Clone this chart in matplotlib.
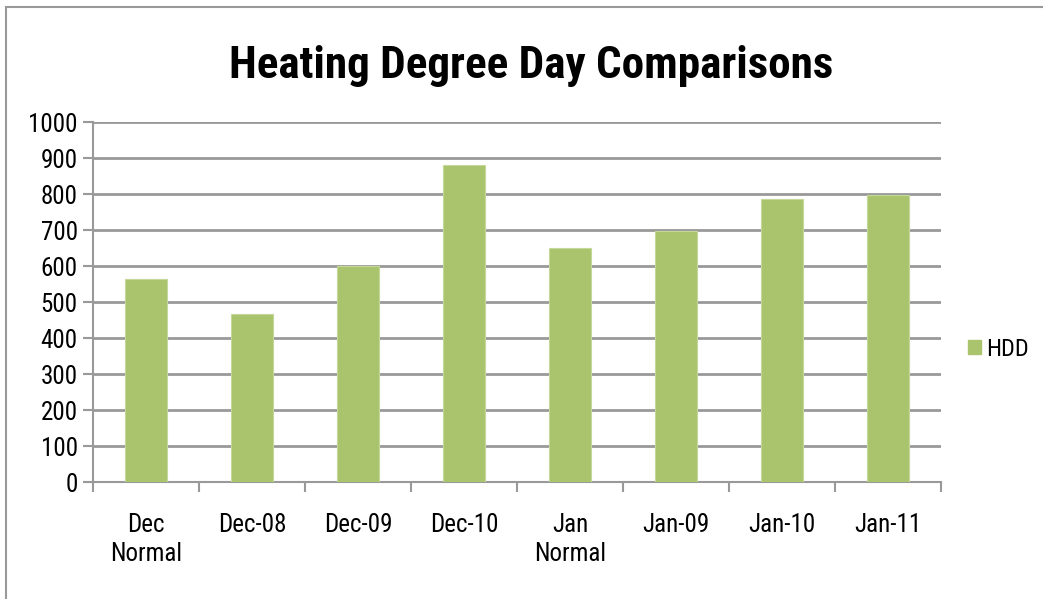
import matplotlib
matplotlib.use("Agg")
import matplotlib.pyplot as plt
from matplotlib import font_manager
from matplotlib.patches import Rectangle, Patch

categories = ["Dec\nNormal", "Dec-08", "Dec-09", "Dec-10", "Jan\nNormal", "Jan-09", "Jan-10", "Jan-11"]
hdd = [563, 468, 600, 880, 650, 696, 785, 797]
yticks = [0, 100, 200, 300, 400, 500, 600, 700, 800, 900, 1000]

# narrow sans fonts, closest to the Arial Narrow look
fonts = font_manager.fontManager.ttflist
have = {f.name for f in fonts}
bold_have = {f.name for f in fonts if f.weight in (700, "bold")}
narrow = [n for n in ["Roboto Condensed", "PT Sans Narrow", "Archivo Narrow", "Liberation Sans Narrow"] if n in have]
narrow_bold = [n for n in ["Roboto Condensed", "PT Sans Narrow", "Liberation Sans Narrow", "Saira Condensed"] if n in bold_have]

plt.rcParams["font.family"] = narrow + ["Liberation Sans", "DejaVu Sans"]

W, H = 1043, 599
fig = plt.figure(figsize=(W / 100, H / 100), dpi=100)
ax = fig.add_axes([93 / W, 1 - 482 / H, (941 - 93) / W, (482 - 122) / H])

x = list(range(len(categories)))
ax.bar(x, hdd, width=0.4, color="#a9c46c", edgecolor="#c4d89a", linewidth=0.8, zorder=3, label="HDD")

ax.set_xlim(-0.5, len(categories) - 0.5)
ax.set_ylim(0, 1000)
ax.set_yticks(yticks)
ax.set_yticklabels([str(v) for v in yticks], fontsize=18)
ax.yaxis.grid(True, color="#999999", linewidth=2, zorder=0)

ax.set_xticks([i - 0.5 for i in range(len(categories) + 1)])
ax.set_xticklabels([])
ax.set_xticks(x, minor=True)
ax.set_xticklabels(categories, minor=True, fontsize=18, linespacing=1.3)
ax.tick_params(axis="x", which="major", length=7, color="#999999", width=1.5, direction="out")
ax.tick_params(axis="x", which="minor", length=0, pad=22)
ax.tick_params(axis="y", length=7, color="#999999", width=1.5, pad=4)

for s in ["top", "right"]:
    ax.spines[s].set_visible(False)
for s in ["left", "bottom"]:
    ax.spines[s].set_color("#999999")
    ax.spines[s].set_linewidth(1.5)

fig.text(531 / W, 1 - 78 / H, "Heating Degree Day Comparisons", ha="center", va="baseline",
         fontsize=32.5, fontweight="bold", family=narrow_bold + ["Liberation Sans", "DejaVu Sans"])

fig.legend(handles=[Patch(facecolor="#a9c46c", edgecolor="#a9c46c")], labels=["HDD"],
           loc="center left", bbox_to_anchor=(968 / W, 1 - 349 / H), frameon=False,
           fontsize=17.5, handlelength=0.55, handleheight=0.55, handletextpad=0.2,
           borderpad=0, borderaxespad=0)

fig.patches.append(Rectangle((6 / W, -0.1), 1.2, 1 - 7 / H + 0.1, transform=fig.transFigure,
                             fill=False, edgecolor="#999999", linewidth=1.5))

fig.savefig("out.png", dpi=100)
